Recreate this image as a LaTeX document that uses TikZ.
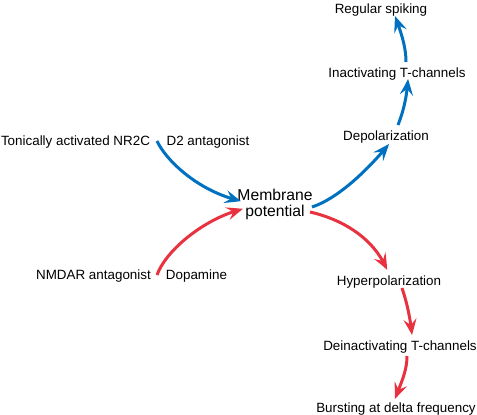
\documentclass[tikz,border=0pt]{standalone}
\usepackage{fontspec}
\setmainfont{Liberation Sans}
\usetikzlibrary{arrows.meta,bending}
\definecolor{cblue}{RGB}{0,112,192}
\definecolor{cred}{RGB}{232,50,64}
\begin{document}
\begin{tikzpicture}[x=1pt,y=-1pt,
  lbl/.style={inner sep=0pt,anchor=base,font=\fontsize{13.4}{15}\selectfont},
  big/.style={inner sep=0pt,align=center,font=\fontsize{15.7}{16}\selectfont},
  conn/.style={line width=3pt,-{Stealth[length=16pt,width=13pt,inset=6pt,bend]}},
  bl/.style={conn,draw=cblue},
  rd/.style={conn,draw=cred}]
\useasboundingbox (0,0) rectangle (477,415);
\node[lbl] (rs) at (381,13) {Regular spiking};
\node[lbl] (inact) at (397,77) {Inactivating T-channels};
\node[lbl] (depol) at (386,140) {Depolarization};
\node[lbl] (nr2c) at (75.5,145) {Tonically activated NR2C};
\node[lbl] (d2) at (208,145) {D2 antagonist};
\node[big] (mp) at (275,204) {Membrane\\potential};
\node[lbl] (nmdar) at (93.5,279) {NMDAR antagonist};
\node[lbl] (dopa) at (196.5,279) {Dopamine};
\node[lbl] (hyper) at (389,285) {Hyperpolarization};
\node[lbl] (deinact) at (400,350) {Deinactivating T-channels};
\node[lbl] (burst) at (396,412) {Bursting at delta frequency};
% connector ends
\coordinate (s1) at (157,141);
\coordinate (e1) at (241,201);
\coordinate (s2) at (157,275);
\coordinate (e2) at (243,209);
\coordinate (s3) at (312,207);
\coordinate (e3) at (389,144);
\coordinate (s4) at (310,212);
\coordinate (e4) at (387,270);
\coordinate (s5) at (398,125);
\coordinate (e5) at (408,79);
\coordinate (s6) at (406,62);
\coordinate (e6) at (395,16);
\coordinate (s7) at (402,288);
\coordinate (e7) at (412,335);
\coordinate (s8) at (407,356);
\coordinate (e8) at (395,399);
\draw[bl] (s1) .. controls (167,162) and (200,192) .. (e1);
\draw[rd] (s2) .. controls (166,250) and (205,218) .. (e2);
\draw[bl] (s3) .. controls (340,198) and (372,165) .. (e3);
\draw[rd] (s4) .. controls (345,220) and (375,240) .. (e4);
\draw[bl] (s5) .. controls (404,110) and (407,95) .. (e5);
\draw[bl] (s6) .. controls (406,45) and (400,30) .. (e6);
\draw[rd] (s7) .. controls (406,300) and (410,315) .. (e7);
\draw[rd] (s8) .. controls (407,372) and (400,385) .. (e8);
\end{tikzpicture}
\end{document}
